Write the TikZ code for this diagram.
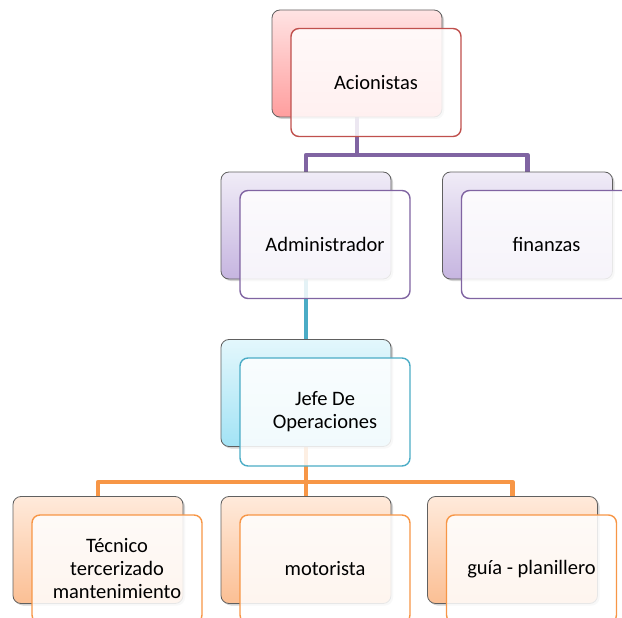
\documentclass[tikz,border=0pt]{standalone}
\usepackage{fontspec}
\setmainfont{Carlito}
\usepackage{tikz}
\usetikzlibrary{shadows,backgrounds}

\definecolor{redline}{HTML}{C0504D}
\definecolor{redtop}{HTML}{FFE3E3}
\definecolor{redbot}{HTML}{FF9E9E}
\definecolor{purpline}{HTML}{8064A2}
\definecolor{purptop}{HTML}{F0ECF7}
\definecolor{purpbot}{HTML}{C6B5E0}
\definecolor{tealline}{HTML}{4BACC6}
\definecolor{tealtop}{HTML}{E3F7FC}
\definecolor{tealbot}{HTML}{A3E3F5}
\definecolor{orgline}{HTML}{F79646}
\definecolor{orgtop}{HTML}{FFEADB}
\definecolor{orgbot}{HTML}{FBBF94}

\begin{document}
\begin{tikzpicture}[x=1pt, y=-1pt,
   backbox/.style={rectangle, rounded corners=8pt, draw=gray!75!black, line width=0.8pt,
      minimum width=170pt, minimum height=107pt,
      drop shadow={shadow xshift=2pt, shadow yshift=-2pt, opacity=0.35}},
   frontbox/.style={rectangle, rounded corners=8pt, line width=1.4pt, fill=white,
      fill opacity=0.85, text opacity=1, minimum width=170pt, minimum height=108pt,
      align=center, font=\fontsize{20.5}{23}\selectfont},
   link/.style={line width=4.5pt, line join=round}]
   \useasboundingbox (0,0) rectangle (622,618);

   %acionistas
   \node[backbox, top color=redtop, bottom color=redbot] (accb) at (357,63.5) {};
   \node[frontbox, draw=redline] (acc) at (376,82.5) {Acionistas};

   %administrador y finanzas
   \node[backbox, top color=purptop, bottom color=purpbot] (admb) at (306,225.5) {};
   \node[frontbox, draw=purpline] (adm) at (325,244.5) {Administrador};
   \node[backbox, top color=purptop, bottom color=purpbot] (finb) at (527.5,225.5) {};
   \node[frontbox, draw=purpline] (fin) at (546.5,244.5) {finanzas};

   %jefe de operaciones
   \node[backbox, top color=tealtop, bottom color=tealbot] (jefb) at (306,393) {};
   \node[frontbox, draw=tealline] (jef) at (325,412) {Jefe De\\Operaciones};

   %personal
   \node[backbox, top color=orgtop, bottom color=orgbot] (tecb) at (98,550) {};
   \node[frontbox, draw=orgline] (tec) at (117,569) {T\'ecnico\\tercerizado\\mantenimiento};
   \node[backbox, top color=orgtop, bottom color=orgbot] (motb) at (306,550) {};
   \node[frontbox, draw=orgline] (mot) at (325,569) {motorista};
   \node[backbox, top color=orgtop, bottom color=orgbot] (guib) at (512.5,550) {};
   \node[frontbox, draw=orgline] (gui) at (531.5,569) {gu\'ia - planillero};

   \coordinate (j1) at (357,155);
   \coordinate (j2) at (306,482);

   \begin{pgfonlayer}{background}
   \draw[link, purpline] (accb.south) -- (j1) -| (admb.north);
   \draw[link, purpline] (j1) -| (finb.north);
   \draw[link, tealline] (admb.south) -- (jefb.north);
   \draw[link, orgline] (jefb.south) -- (j2) -| (tecb.north);
   \draw[link, orgline] (j2) -- (motb.north);
   \draw[link, orgline] (j2) -| (guib.north);
   \end{pgfonlayer}
\end{tikzpicture}
\end{document}
